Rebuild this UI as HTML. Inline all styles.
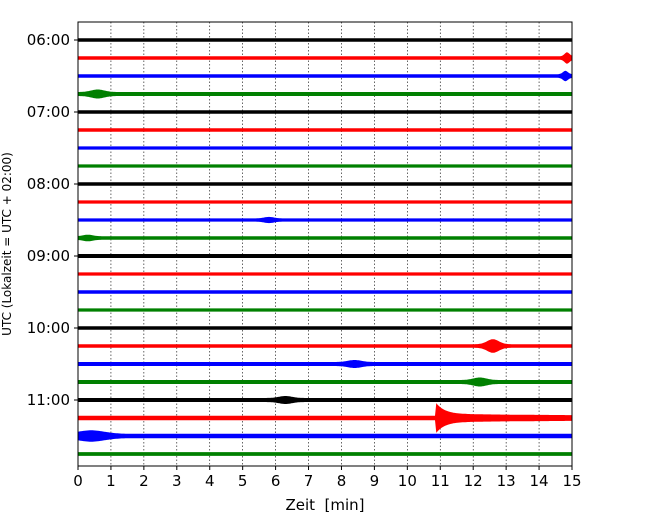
<!DOCTYPE html>
<html><head><meta charset="utf-8"><style>
body{margin:0;background:#fff;}
svg text{font-family:"DejaVu Sans","Liberation Sans",sans-serif;}
</style></head><body>
<svg id="chart" width="650" height="520" xmlns="http://www.w3.org/2000/svg">
<rect width="650" height="520" fill="#fff"/>
<g id="grid"></g><g id="traces"></g><g id="axes"></g>
<text x="325" y="510" text-anchor="middle" font-size="15">Zeit&#160;&#160;[min]</text>
<text transform="translate(11,244) rotate(-90)" text-anchor="middle" font-size="12">UTC (Lokalzeit = UTC + 02:00)</text>
</svg>
<script>
const rowLabels = ["06:00","07:00","08:00","09:00","10:00","11:00"];
const xTicks = [0,1,2,3,4,5,6,7,8,9,10,11,12,13,14,15];
const traceColors = ["#000","#f00","#00f","#008000"];
const baseAmp = [1.8,1.7,1.8,2,1.7,1.7,1.6,1.6,1.8,1.6,1.6,1.8,2,1.6,1.8,1.6,1.8,1.8,2,2,2,2.3,2.2,1.9];
const eventTrace = [1,2,3,17,21,22,20,19,18,11,10];
const eventMin = [14.85,14.8,0.6,12.6,10.85,0.4,6.3,12.2,8.4,0.3,5.8];
const eventAmp = [4,3.5,2.5,5,12,3.5,2,2.5,2,1.5,1.5];
const eventDur = [0.15,0.15,0.4,0.35,3.5,0.8,0.4,0.4,0.4,0.3,0.3];

const L=78,R=572,T=22,B=466;
const xs=m=>L+(R-L)*m/15;
const rowY=i=>40+i*18;
const NS="http://www.w3.org/2000/svg";
function mk(t,a,p){const e=document.createElementNS(NS,t);for(const k in a)e.setAttribute(k,a[k]);p.appendChild(e);return e;}
const grid=document.getElementById('grid'),tr=document.getElementById('traces'),ax=document.getElementById('axes');
xTicks.forEach(t=>{
  if(t>0&&t<15){const g=mk('line',{x1:xs(t),x2:xs(t),y1:T,y2:B,stroke:'#000','stroke-width':0.6,'stroke-dasharray':'1.5,2'},grid);
  
  }
  const tk=mk('line',{x1:xs(t),x2:xs(t),y1:B,y2:B+4,stroke:'#000'},ax);
  
  
  const tx=mk('text',{x:xs(t),y:B+20,'text-anchor':'middle','font-size':15},ax);tx.textContent=t;
  
  
});
rowLabels.forEach((lb,i)=>{
  const y=rowY(i*4);
  const tk=mk('line',{x1:L-4,x2:L,y1:y,y2:y,stroke:'#000'},ax);
  
  
  const tx=mk('text',{x:L-8,y:y+5,'text-anchor':'end','font-size':15},ax);tx.textContent=lb;
  
  
});
function amp(i,m){
  let a=baseAmp[i];
  eventTrace.forEach((t,k)=>{
    if(t!==i)return;
    const d=m-eventMin[k];
    let v=0;
    if(eventDur[k]>1){ if(d>=0) v=eventAmp[k]*Math.exp(-d/0.25)+2*Math.exp(-d/eventDur[k]); }
    else v=eventAmp[k]*Math.exp(-(d*d)/(2*Math.pow(eventDur[k]/2,2)));
    a+=v;
  });
  return a;
}
for(let i=0;i<24;i++){
  const y=rowY(i);let top=[],bot=[];
  for(let m=0;m<=15.0001;m+=0.04){top.push(xs(m).toFixed(1)+','+(y-amp(i,m)).toFixed(1));bot.unshift(xs(m).toFixed(1)+','+(y+amp(i,m)).toFixed(1));}
  const p=mk('polygon',{points:top.concat(bot).join(' '),fill:traceColors[i%4],stroke:'none'},tr);
  
  
}
const f=mk('rect',{x:L,y:T,width:R-L,height:B-T,fill:'none',stroke:'#000','stroke-width':1},ax);


</script>
</body></html>
